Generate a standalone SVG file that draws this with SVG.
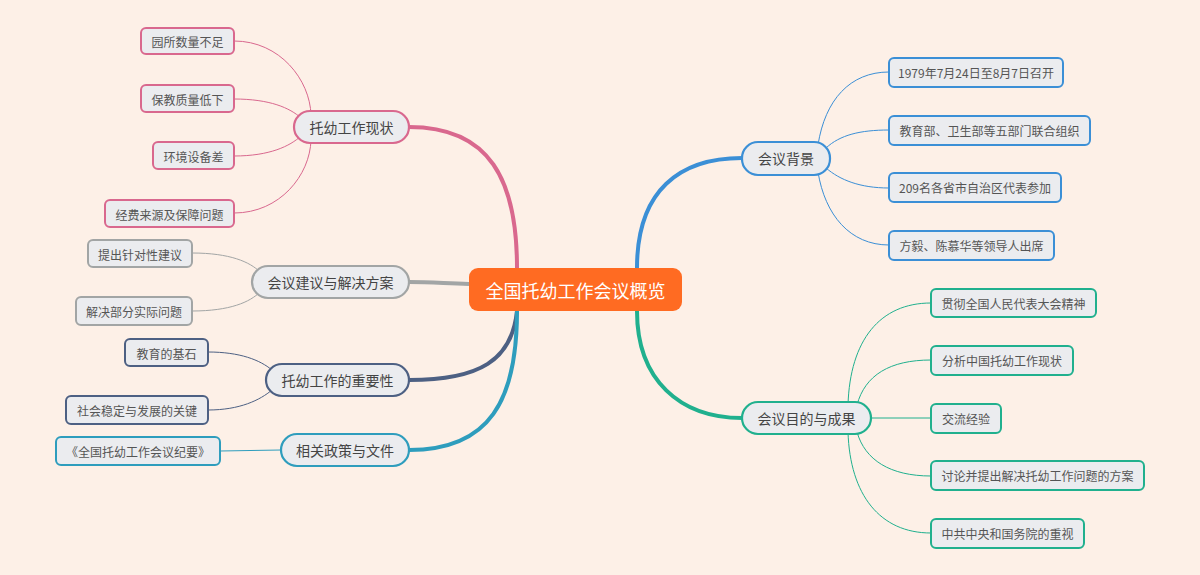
<svg xmlns="http://www.w3.org/2000/svg" width="1200" height="575" viewBox="0 0 1200 575">
<style>
text{font-family:"Noto Sans CJK SC","Liberation Sans",sans-serif;dominant-baseline:central;text-anchor:middle}
.m{fill:#ebecef;stroke-width:2.2}
.l{fill:#ebecef;stroke-width:2}
.mt{font-size:14px;fill:#444}
.lt{font-size:12px;fill:#555}
.c{fill:none}
.thick{stroke-width:4}
.thin{stroke-width:1}
</style>
<rect width="1200" height="575" fill="#fdf0e7"/>
<g id="connectors" class="c">
<path class="thick" stroke="#d9688e" d="M517,268 C517,180 490,127 409,127"/>
<path class="thick" stroke="#a2a5a5" d="M469,284 C440,283 430,282 409,282"/>
<path class="thick" stroke="#4d6083" d="M517,311 C512,360 480,380 409,380"/>
<path class="thick" stroke="#2e9dbd" d="M517,311 C517,400 490,450 409,450"/>
<path class="thick" stroke="#3b8fd6" d="M637,268 C637,190 680,158 742,158"/>
<path class="thick" stroke="#20b08e" d="M637,311 C637,380 680,418 742,418"/>
<g class="thin" stroke="#d9688e">
<path d="M234,41 C280,41 310,80 311,115"/>
<path d="M234,99 C270,99 290,108 301,118"/>
<path d="M234,156 C270,156 290,146 301,136"/>
<path d="M234,213 C280,213 310,175 311,140"/>
</g>
<g class="thin" stroke="#a2a5a5">
<path d="M192,253 C230,253 250,262 260,272"/>
<path d="M192,311 C230,311 250,302 260,292"/>
</g>
<g class="thin" stroke="#4d6083">
<path d="M208,352 C240,352 260,360 272,370"/>
<path d="M208,410 C240,410 260,400 272,390"/>
</g>
<path class="thin" stroke="#2e9dbd" d="M220,451 L281,450"/>
<g class="thin" stroke="#3b8fd6">
<path d="M889,72 C850,72 825,100 818,145"/>
<path d="M889,130 C860,130 840,135 826,148"/>
<path d="M889,188 C860,188 840,180 826,168"/>
<path d="M889,245 C850,245 825,215 818,172"/>
</g>
<g class="thin" stroke="#20b08e">
<path d="M931,303 C880,303 850,340 848,405"/>
<path d="M931,360 C890,360 865,375 857,405"/>
<path d="M931,418 L871,418"/>
<path d="M931,476 C890,476 865,460 857,432"/>
<path d="M931,533 C880,533 850,495 848,432"/>
</g>
</g>
<g id="center"><rect x="469" y="268" width="213" height="43" rx="9" fill="#ff6b22"/><text x="575.5" y="289.5" font-size="18" fill="#fff">全国托幼工作会议概览</text></g>
<g id="n1"><rect class="m" x="294" y="111" width="115" height="32" rx="16" stroke="#d9688e"/><text class="mt" x="351.5" y="127">托幼工作现状</text></g>
<g id="n2"><rect class="m" x="252" y="266" width="157" height="32" rx="16" stroke="#a2a5a5"/><text class="mt" x="330.5" y="282">会议建议与解决方案</text></g>
<g id="n3"><rect class="m" x="266" y="364" width="143" height="32" rx="16" stroke="#4d6083"/><text class="mt" x="337.5" y="380">托幼工作的重要性</text></g>
<g id="n4"><rect class="m" x="281" y="434" width="128" height="32" rx="16" stroke="#2e9dbd"/><text class="mt" x="345" y="450">相关政策与文件</text></g>
<g id="n5"><rect class="m" x="742" y="142" width="88" height="33" rx="16" stroke="#3b8fd6"/><text class="mt" x="786" y="158">会议背景</text></g>
<g id="n6"><rect class="m" x="742" y="402" width="129" height="32" rx="16" stroke="#20b08e"/><text class="mt" x="806.5" y="418">会议目的与成果</text></g>
<g stroke="#d9688e">
<g id="l1"><rect class="l" x="141" y="28" width="93" height="26" rx="5"/><text class="lt" x="187.5" y="41" stroke="none">园所数量不足</text></g>
<g id="l2"><rect class="l" x="141" y="85" width="93" height="27" rx="5"/><text class="lt" x="187.5" y="99" stroke="none">保教质量低下</text></g>
<g id="l3"><rect class="l" x="153" y="142" width="81" height="27" rx="5"/><text class="lt" x="193.5" y="156" stroke="none">环境设备差</text></g>
<g id="l4"><rect class="l" x="105" y="200" width="129" height="27" rx="5"/><text class="lt" x="169.5" y="214" stroke="none">经费来源及保障问题</text></g>
</g>
<g stroke="#a2a5a5">
<g id="l5"><rect class="l" x="88" y="240" width="104" height="27" rx="5"/><text class="lt" x="140" y="254" stroke="none">提出针对性建议</text></g>
<g id="l6"><rect class="l" x="76" y="297" width="116" height="28" rx="5"/><text class="lt" x="134" y="311" stroke="none">解决部分实际问题</text></g>
</g>
<g stroke="#4d6083">
<g id="l7"><rect class="l" x="125" y="339" width="83" height="27" rx="5"/><text class="lt" x="166.5" y="353" stroke="none">教育的基石</text></g>
<g id="l8"><rect class="l" x="66" y="396" width="142" height="28" rx="5"/><text class="lt" x="137" y="410" stroke="none">社会稳定与发展的关键</text></g>
</g>
<g stroke="#2e9dbd">
<g id="l9"><rect class="l" x="56" y="437" width="164" height="28" rx="5"/><text class="lt" x="138" y="451" stroke="none">《全国托幼工作会议纪要》</text></g>
</g>
<g stroke="#3b8fd6">
<g id="l10"><rect class="l" x="889" y="58" width="174" height="29" rx="5"/><text class="lt" x="976" y="72.5" stroke="none">1979年7月24日至8月7日召开</text></g>
<g id="l11"><rect class="l" x="889" y="116" width="201" height="29" rx="5"/><text class="lt" x="989.5" y="130.5" stroke="none">教育部、卫生部等五部门联合组织</text></g>
<g id="l12"><rect class="l" x="889" y="173" width="172" height="29" rx="5"/><text class="lt" x="975" y="187.5" stroke="none">209名各省市自治区代表参加</text></g>
<g id="l13"><rect class="l" x="889" y="231" width="165" height="29" rx="5"/><text class="lt" x="971.5" y="245.5" stroke="none">方毅、陈慕华等领导人出席</text></g>
</g>
<g stroke="#20b08e">
<g id="l14"><rect class="l" x="931" y="289" width="165" height="28" rx="5"/><text class="lt" x="1013.5" y="303" stroke="none">贯彻全国人民代表大会精神</text></g>
<g id="l15"><rect class="l" x="931" y="346" width="142" height="29" rx="5"/><text class="lt" x="1002" y="360.5" stroke="none">分析中国托幼工作现状</text></g>
<g id="l16"><rect class="l" x="931" y="404" width="70" height="29" rx="5"/><text class="lt" x="966" y="418.5" stroke="none">交流经验</text></g>
<g id="l17"><rect class="l" x="931" y="461" width="213" height="29" rx="5"/><text class="lt" x="1037.5" y="475.5" stroke="none">讨论并提出解决托幼工作问题的方案</text></g>
<g id="l18"><rect class="l" x="931" y="519" width="153" height="29" rx="5"/><text class="lt" x="1007.5" y="533.5" stroke="none">中共中央和国务院的重视</text></g>
</g>
</svg>
